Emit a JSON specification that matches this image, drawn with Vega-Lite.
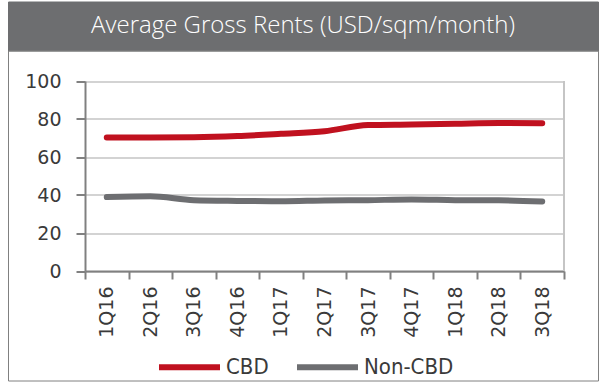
{
  "$schema": "https://vega.github.io/schema/vega-lite/v6.json",
  "padding": {"left": -2, "top": 0.5, "right": 4.5, "bottom": 5},
  "background": "white",
  "bounds": "flush",
  "spacing": 0,
  "config": {"axis": {"minExtent": 0}},
  "datasets": {
    "rents": [
      {"quarter": "1Q16", "series": "CBD", "value": 70.3},
      {"quarter": "2Q16", "series": "CBD", "value": 70.3},
      {"quarter": "3Q16", "series": "CBD", "value": 70.4},
      {"quarter": "4Q16", "series": "CBD", "value": 71.0},
      {"quarter": "1Q17", "series": "CBD", "value": 72.2},
      {"quarter": "2Q17", "series": "CBD", "value": 73.6},
      {"quarter": "3Q17", "series": "CBD", "value": 76.8},
      {"quarter": "4Q17", "series": "CBD", "value": 77.1},
      {"quarter": "1Q18", "series": "CBD", "value": 77.5},
      {"quarter": "2Q18", "series": "CBD", "value": 77.9},
      {"quarter": "3Q18", "series": "CBD", "value": 77.8},
      {"quarter": "1Q16", "series": "Non-CBD", "value": 38.9},
      {"quarter": "2Q16", "series": "Non-CBD", "value": 39.3},
      {"quarter": "3Q16", "series": "Non-CBD", "value": 37.3},
      {"quarter": "4Q16", "series": "Non-CBD", "value": 36.9},
      {"quarter": "1Q17", "series": "Non-CBD", "value": 36.7},
      {"quarter": "2Q17", "series": "Non-CBD", "value": 37.1},
      {"quarter": "3Q17", "series": "Non-CBD", "value": 37.3},
      {"quarter": "4Q17", "series": "Non-CBD", "value": 37.6},
      {"quarter": "1Q18", "series": "Non-CBD", "value": 37.3},
      {"quarter": "2Q18", "series": "Non-CBD", "value": 37.2},
      {"quarter": "3Q18", "series": "Non-CBD", "value": 36.6}
    ]
  },
  "vconcat": [
    {
      "width": 590,
      "height": 49,
      "view": {"fill": "#6d6e70", "stroke": "#6d6e70"},
      "data": {"values": [{"title": "Average Gross Rents (USD/sqm/month)"}]},
      "mark": {"type": "text", "color": "#ffffff", "font": "Open Sans", "fontSize": 24, "fontWeight": 300, "align": "center", "baseline": "middle"},
      "encoding": {"text": {"field": "title"}}
    },
    {
      "width": 590,
      "height": 330,
      "view": {"stroke": "#808080", "strokeWidth": 1},
      "data": {"name": "rents"},
      "layer": [
        {
          "mark": {"type": "rule", "color": "#c4c4c4", "strokeWidth": 1.5},
          "encoding": {
            "x": {"datum": "3Q18", "bandPosition": 1},
            "y": {"datum": 0},
            "y2": {"datum": 100}
          }
        },
        {
          "mark": {"type": "line", "strokeWidth": 6, "strokeCap": "round", "strokeJoin": "round", "interpolate": "monotone"},
          "encoding": {
            "x": {
              "field": "quarter",
              "type": "ordinal",
              "sort": null,
              "scale": {"type": "band", "domain": ["1Q16","2Q16","3Q16","4Q16","1Q17","2Q17","3Q17","4Q17","1Q18","2Q18","3Q18"], "range": [77, 556], "paddingInner": 0, "paddingOuter": 0},
              "axis": {
                "title": null, "offset": -109.5, "labelAngle": -90, "tickBand": "extent",
                "tickSize": 8, "labelPadding": 7, "domainColor": "#808080", "domainWidth": 2,
                "tickColor": "#808080", "tickWidth": 2, "labelFont": "DejaVu Sans", "labelFontSize": 19,
                "labelColor": "#3a3a3a", "grid": false
              }
            },
            "y": {
              "field": "value",
              "type": "quantitative",
              "scale": {"domain": [0, 100], "range": [220.5, 30.5], "nice": false},
              "axis": {
                "title": null, "values": [0, 20, 40, 60, 80, 100], "offset": -77,
                "tickSize": 9, "labelPadding": 15, "domainColor": "#808080", "domainWidth": 2,
                "tickColor": "#808080", "tickWidth": 2, "labelFont": "DejaVu Sans", "labelFontSize": 19,
                "labelColor": "#3a3a3a", "grid": true, "gridColor": "#c4c4c4", "gridWidth": 1.5
              }
            },
            "color": {
              "field": "series",
              "type": "nominal",
              "scale": {"domain": ["CBD", "Non-CBD"], "range": ["#c0111f", "#6d6e71"]},
              "legend": {
                "title": null, "orient": "none", "legendX": 148, "legendY": 332, "direction": "horizontal",
                "symbolType": "stroke", "symbolSize": 3721, "symbolStrokeWidth": 6,
                "labelFont": "DejaVu Sans Condensed, Roboto, sans-serif", "labelFontSize": 22, "labelColor": "#3a3a3a",
                "labelOffset": 3, "columnPadding": 16
              }
            }
          }
        }
      ]
    }
  ]
}
